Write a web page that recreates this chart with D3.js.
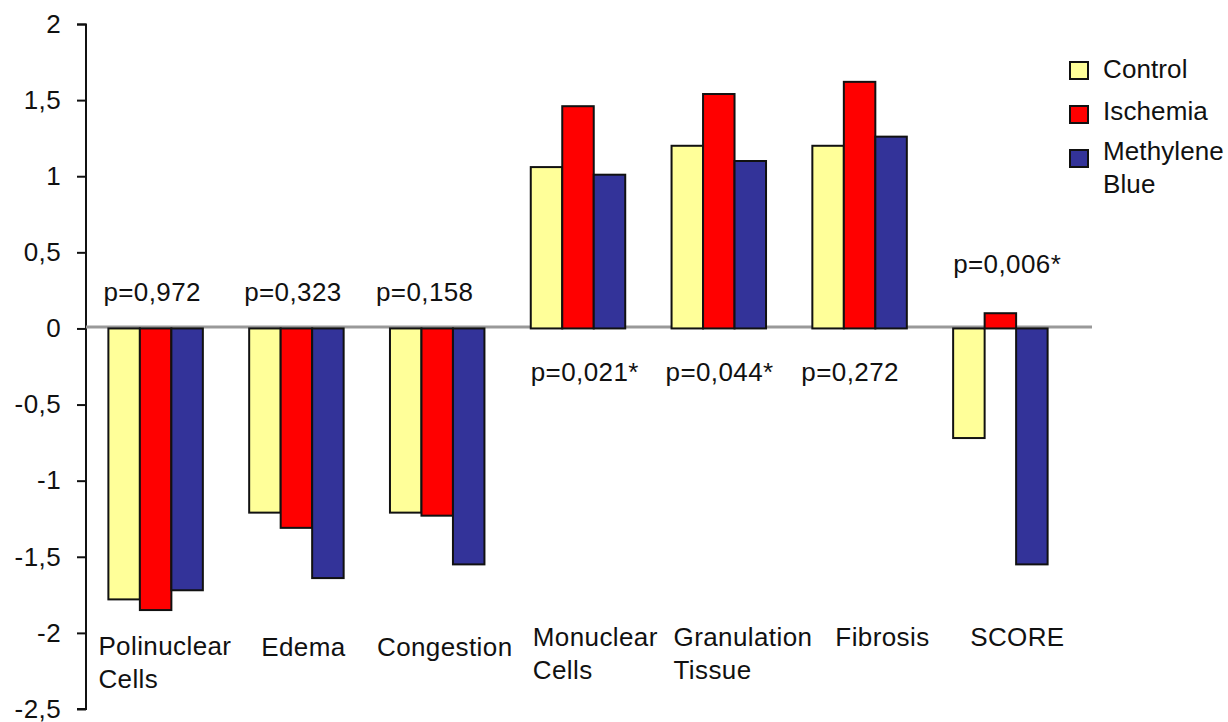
<!DOCTYPE html>
<html>
<head>
<meta charset="utf-8">
<title>Scores by group</title>
<style>
  body { margin: 0; background: #fff; }
  svg text { font-family: "Liberation Sans", Arial, sans-serif; fill: #111; letter-spacing: 0.4px; }
</style>
</head>
<body>
<svg id="chart" width="1228" height="722"></svg>
<script src="https://d3js.org/d3.v7.min.js"></script>
<script>
// data
var categories = [["Polinuclear", "Cells"], ["Edema"], ["Congestion"], ["Monuclear", "Cells"],
                  ["Granulation", "Tissue"], ["Fibrosis"], ["SCORE"]];
var seriesNames = ["Control", "Ischemia", "Methylene Blue"];
var control   = [-1.78, -1.21, -1.21, 1.06, 1.20, 1.20, -0.72];
var ischemia  = [-1.85, -1.31, -1.23, 1.46, 1.54, 1.62, 0.10];
var methylene = [-1.72, -1.64, -1.55, 1.01, 1.10, 1.26, -1.55];
var pLabels   = ["p=0,972", "p=0,323", "p=0,158", "p=0,021*", "p=0,044*", "p=0,272", "p=0,006*"];
var yTicks    = [-2.5, -2, -1.5, -1, -0.5, 0, 0.5, 1, 1.5, 2];

var colors = ["#ffff99", "#ff0000", "#333399"];
var values = [control, ischemia, methylene];

var svg = d3.select("#chart");
var keys = categories.map(function(c) { return c.join(" "); });

var x0 = d3.scaleBand().domain(keys).range([86, 1070]).paddingInner(0.329).paddingOuter(0.159);
var x1 = d3.scaleBand().domain(seriesNames).range([0, x0.bandwidth()]);
var y  = d3.scaleLinear().domain([-2.5, 2]).range([709, 24]);

var loc = d3.formatLocale({decimal: ",", thousands: ".", grouping: [3], currency: ["", ""], minus: "-"});
var fmt = loc.format("~g");

// y axis
var yAxis = svg.append("g")
  .attr("transform", "translate(86,0)")
  .call(d3.axisLeft(y).tickValues(yTicks).tickFormat(fmt).tickSize(9).tickPadding(16));
yAxis.select(".domain").attr("stroke", "#111").attr("stroke-width", 2).attr("d", "M-9,24.5H0V709H-9");
yAxis.selectAll(".tick line").attr("stroke", "#111").attr("stroke-width", 2);
yAxis.selectAll(".tick text").style("font-size", "26px").attr("fill", "#111")
  .style("font-family", "'Liberation Sans', Arial, sans-serif");

// zero line
svg.append("line")
  .attr("x1", 86).attr("x2", 1092)
  .attr("y1", y(0) - 1.5).attr("y2", y(0) - 1.5)
  .attr("stroke", "#999").attr("stroke-width", 3);

// bars
var rows = keys.map(function(k, i) {
  return seriesNames.map(function(s, j) { return {cat: k, series: s, value: values[j][i], color: colors[j]}; });
});

svg.append("g").selectAll("g")
  .data(rows).join("g")
  .attr("transform", function(d, i) { return "translate(" + x0(keys[i]) + ",0)"; })
  .selectAll("rect")
  .data(function(d) { return d; }).join("rect")
  .attr("x", function(d) { return x1(d.series); })
  .attr("width", x1.bandwidth())
  .attr("y", function(d) { return y(Math.max(0, d.value)); })
  .attr("height", function(d) { return Math.abs(y(d.value) - y(0)); })
  .attr("fill", function(d) { return d.color; })
  .attr("stroke", "#111").attr("stroke-width", 2);

// p-value labels (above zero for negative groups, below for positive ones)
var pDx = [-5, -5, -14, 0, -6, -11, 0];
svg.append("g").selectAll("text")
  .data(pLabels).join("text")
  .attr("x", function(d, i) { return x0(keys[i]) + pDx[i]; })
  .attr("y", function(d, i) {
    if (i === 6) return 273;
    return control[i] < 0 ? y(0) - 27 : y(0) + 53;
  })
  .style("font-size", "26px")
  .text(function(d) { return d; });

// category labels
var labDx = [-10, 12, -13, 2, 2, 23, 17];
var labY  = [655, 656, 656, 646, 646, 646, 646];
var lab = svg.append("g").selectAll("text")
  .data(categories).join("text")
  .attr("x", function(d, i) { return x0(keys[i]) + labDx[i]; })
  .attr("y", function(d, i) { return labY[i]; })
  .style("font-size", "26px");
lab.selectAll("tspan")
  .data(function(d, i) { return d.map(function(t) { return {t: t, x: x0(keys[i]) + labDx[i]}; }); })
  .join("tspan")
  .attr("x", function(d) { return d.x; })
  .attr("dy", function(d, i) { return i === 0 ? 0 : 33; })
  .text(function(d) { return d.t; });

// legend
var legendLines = [["Control"], ["Ischemia"], ["Methylene", "Blue"]];
var legendTop = [62, 106, 150];
var legendBase = [78, 120, 160];
var lg = svg.append("g").selectAll("g")
  .data(seriesNames).join("g");
lg.append("rect")
  .attr("x", 1070).attr("y", function(d, i) { return legendTop[i]; })
  .attr("width", 18).attr("height", 17)
  .attr("fill", function(d, i) { return colors[i]; })
  .attr("stroke", "#111").attr("stroke-width", 2);
lg.append("text")
  .attr("y", function(d, i) { return legendBase[i]; })
  .style("font-size", "26px")
  .style("letter-spacing", "0.1px")
  .selectAll("tspan")
  .data(function(d, i) { return legendLines[i]; }).join("tspan")
  .attr("x", 1103)
  .attr("dy", function(d, i) { return i === 0 ? 0 : 33; })
  .text(function(d) { return d; });
</script>
</body>
</html>
